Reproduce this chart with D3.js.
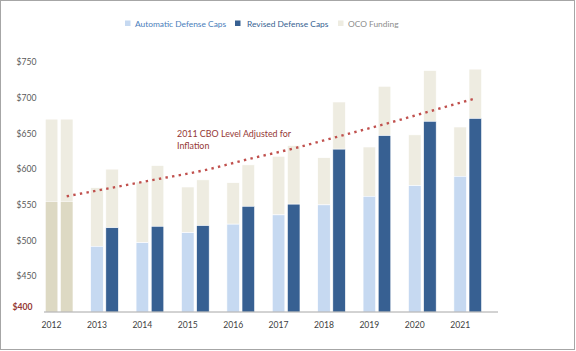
<!DOCTYPE html>
<html>
<head>
<meta charset="utf-8">
<script src="https://cdn.jsdelivr.net/npm/d3@7"></script>
<style>
  html, body { margin: 0; padding: 0; background: #fff; }
  svg text { font-family: "Lato", "Open Sans", sans-serif; }
</style>
</head>
<body>
<div id="chart"></div>
<script>
// ── Data ─────────────────────────────────────────────────────────────────
const years = [2012, 2013, 2014, 2015, 2016, 2017, 2018, 2019, 2020, 2021];
const actualYears = [2012];
const autoCaps = [555, 492, 497, 511, 523, 536, 550, 562, 577, 590];
const revisedCaps = [555, 518, 520, 521, 548, 551, 628, 647, 667, 671];
const ocoFunding = [115, 82, 85, 64, 58, 82, 66, 69, 71, 69];
const cboLevel = [562, 574, 586, 598, 614, 629, 646, 663, 681, 699];
const yTicks = [450, 500, 550, 600, 650, 700, 750];
const yBase = 400;

function renderChart(selector) {
  const W = 576, H = 351;

  const colors = {
    auto: "#c6d9f1",
    revised: "#376092",
    oco: "#eeece1",
    actual: "#ddd9c3",
    cbo: "#c0504d",
  };

  const svg = d3
    .select(selector)
    .append("svg")
    .attr("width", W)
    .attr("height", H);

  // ── Frame ──────────────────────────────────────────────────────────────
  svg
    .append("rect")
    .attr("x", 0.5)
    .attr("y", 0.5)
    .attr("width", W - 2)
    .attr("height", H - 2)
    .attr("fill", "#fff")
    .attr("stroke", "#a6a6a6");

  // ── Scales ─────────────────────────────────────────────────────────────
  const x = d3.scaleBand().domain(years).range([44, 498]).padding(0);

  const sub = d3
    .scaleBand()
    .domain([0, 1, 2])
    .range([0, x.bandwidth()])
    .paddingInner(0.17)
    .paddingOuter(0.085);

  const y = d3.scaleLinear().domain([yBase, 750]).range([312, 62]);

  // ── Bars ───────────────────────────────────────────────────────────────
  const rows = years.map((yr, i) => ({
    year: yr,
    actual: actualYears.includes(yr),
    auto: autoCaps[i],
    revised: revisedCaps[i],
    oco: ocoFunding[i],
  }));

  const bars = svg.append("g");

  [
    { key: "auto", slot: 0 },
    { key: "revised", slot: 1 },
  ].forEach(({ key, slot }) => {
    const bx = (d) => x(d.year) + sub(slot);

    // OCO on top
    bars
      .selectAll(`.oco-${key}`)
      .data(rows)
      .join("rect")
      .attr("x", bx)
      .attr("width", sub.bandwidth())
      .attr("y", (d) => y(d[key] + d.oco))
      .attr("height", (d) => y(d[key]) - y(d[key] + d.oco))
      .attr("fill", colors.oco)
      .attr("stroke", "#fff")
      .attr("stroke-width", 0.6);

    bars
      .selectAll(`.base-${key}`)
      .data(rows)
      .join("rect")
      .attr("x", bx)
      .attr("width", sub.bandwidth())
      .attr("y", (d) => y(d[key]))
      .attr("height", (d) => y(yBase) - y(d[key]))
      .attr("fill", (d) => (d.actual ? colors.actual : colors[key]))
      .attr("stroke", "#fff")
      .attr("stroke-width", 0.6);
  });

  // ── X axis ─────────────────────────────────────────────────────────────
  svg
    .append("line")
    .attr("x1", 44)
    .attr("x2", 498)
    .attr("y1", y(yBase))
    .attr("y2", y(yBase))
    .attr("stroke", "#a6a6a6")
    .attr("stroke-width", 1);

  svg
    .append("g")
    .selectAll("text")
    .data(years)
    .join("text")
    .attr("x", (d) => x(d) + sub(0) + sub.bandwidth() / 2)
    .attr("y", 327.5)
    .attr("text-anchor", "middle")
    .attr("font-size", 8.6)
    .attr("fill", "#404040")
    .text((d) => d);

  // ── Y labels ───────────────────────────────────────────────────────────
  svg
    .append("g")
    .selectAll("text")
    .data(yTicks)
    .join("text")
    .attr("x", 36.5)
    .attr("y", (d) => y(d) + 3.2)
    .attr("text-anchor", "end")
    .attr("font-size", 8.6)
    .attr("fill", "#595959")
    .text((d) => `$${d}`);

  svg
    .append("text")
    .attr("x", 12.5)
    .attr("y", 309.5)
    .attr("font-size", 8.6)
    .attr("font-weight", "bold")
    .attr("fill", "#953735")
    .text(`$${yBase}`);

  // ── CBO line ───────────────────────────────────────────────────────────
  const line = d3
    .line()
    .x((d, i) => x(years[i]) + sub(1) + sub.bandwidth() / 2)
    .y((d) => y(d))
    .curve(d3.curveMonotoneX);

  svg
    .append("path")
    .datum(cboLevel)
    .attr("d", line)
    .attr("fill", "none")
    .attr("stroke", colors.cbo)
    .attr("stroke-width", 2.4)
    .attr("stroke-dasharray", "2.4 4.3");

  const note = svg
    .append("text")
    .attr("x", 177)
    .attr("y", 136.5)
    .attr("font-size", 8.9)
    .attr("fill", "#953735");
  note.append("tspan").attr("x", 177).text("2011 CBO Level Adjusted for");
  note.append("tspan").attr("x", 177).attr("dy", 12).text("Inflation");

  // ── Legend ─────────────────────────────────────────────────────────────
  const legendItems = [
    { label: "Automatic Defense Caps", color: colors.auto, text: "#4a7ebb", x: 125, tx: 135 },
    { label: "Revised Defense Caps", color: colors.revised, text: "#365f91", x: 235, tx: 247 },
    { label: "OCO Funding", color: colors.oco, text: "#8c8c8c", x: 338, tx: 348 },
  ];

  const legend = svg.append("g");
  legendItems.forEach((s) => {
    legend
      .append("rect")
      .attr("x", s.x)
      .attr("y", 20.5)
      .attr("width", 5.5)
      .attr("height", 5.5)
      .attr("fill", s.color);
    legend
      .append("text")
      .attr("x", s.tx)
      .attr("y", 26.5)
      .attr("font-size", 8.4)
      .attr("fill", s.text)
      .text(s.label);
  });
}

renderChart("#chart");
</script>
</body>
</html>
